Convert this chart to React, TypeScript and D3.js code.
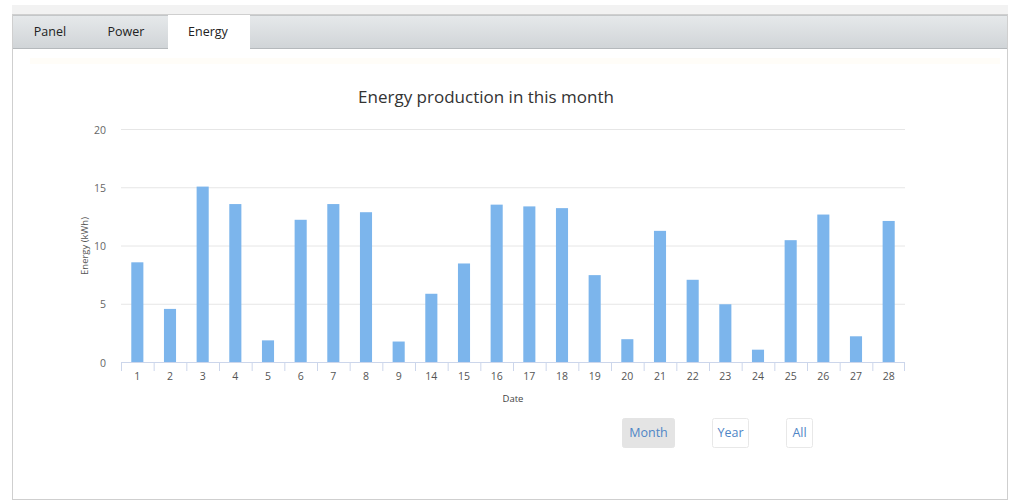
import React from "react";
import * as d3 from "d3";

const categories = ["1","2","3","4","5","6","7","8","9","14","15","16","17","18","19","20","21","22","23","24","25","26","27","28"];
const energy = [8.6,4.6,15.1,13.6,1.9,12.25,13.6,12.9,1.8,5.9,8.5,13.55,13.4,13.25,7.5,2.0,11.3,7.1,5.0,1.1,10.5,12.7,2.25,12.15];
const yTicks = [0,5,10,15,20];
const tabs = ["Panel","Power","Energy"];
const rangeButtons = ["Month","Year","All"];

const W = 1012, H = 503;
const FONT = "'Open Sans', 'DejaVu Sans', sans-serif";

export default function App() {
  const x = d3.scaleBand<string>().domain(categories).range([121, 905]).paddingInner(0.63).paddingOuter(0.315);
  const xb = d3.scaleBand<string>().domain(categories).range([121, 905]);
  const y = d3.scaleLinear().domain([0, 20]).range([362.5, 129.5]);

  const tabCenters = [50, 126, 208];
  const activeTab = { x: 168, w: 82 };
  const btn = [
    { x: 622, w: 52, active: true },
    { x: 712, w: 36, active: false },
    { x: 786, w: 26, active: false },
  ];

  return (
    <svg width={W} height={H} style={{ position: "absolute", left: 0, top: 0, display: "block" }}>
      <defs>
        <linearGradient id="tabbar" x1="0" y1="0" x2="0" y2="1">
          <stop offset="0" stopColor="#e6e9eb" />
          <stop offset="1" stopColor="#d0d4d7" />
        </linearGradient>
      </defs>
      <rect x={0} y={0} width={W} height={H} fill="#ffffff" />
      <rect x={12} y={5} width={996} height={10} fill="#f2f2f2" />
      {/* outer panel */}
      <rect x={12.5} y={14.5} width={995} height={485} fill="#ffffff" stroke="#cfcfcf" />
      {/* tab bar */}
      <rect x={13} y={15} width={994} height={34} fill="url(#tabbar)" />
      <line x1={13} x2={1007} y1={15.5} y2={15.5} stroke="#c4c7c9" />
      <line x1={13} x2={1007} y1={48.5} y2={48.5} stroke="#b5b9bc" />
      <rect x={activeTab.x} y={15} width={activeTab.w} height={35} fill="#ffffff" />
      {tabs.map((t, i) => (
        <text key={t} x={tabCenters[i]} y={36} textAnchor="middle" fontFamily={FONT} fontSize={12.5} fill="#222">
          {t}
        </text>
      ))}
      <rect x={30} y={58} width={970} height={6} fill="#fffdf8" />

      {/* title */}
      <text x={486} y={103} textAnchor="middle" fontFamily={FONT} fontSize={17} fill="#333">
        Energy production in this month
      </text>

      {/* grid */}
      {yTicks.map((t) => (
        <g key={t}>
          {t > 0 && <line x1={121} x2={905} y1={y(t)} y2={y(t)} stroke="#e6e6e6" />}
          <text x={106} y={y(t) + 4} textAnchor="end" fontFamily={FONT} fontSize={10.5} fill="#666">
            {t}
          </text>
        </g>
      ))}
      <text transform={`translate(88,246) rotate(-90)`} textAnchor="middle" fontFamily={FONT} fontSize={9.5} fill="#555">
        Energy (kWh)
      </text>

      {/* bars */}
      {categories.map((c, i) => (
        <rect key={c} x={x(c)} y={y(energy[i])} width={x.bandwidth()} height={y(0) - y(energy[i])} fill="#7cb5ec" />
      ))}

      {/* x axis */}
      <line x1={121} x2={905} y1={362.5} y2={362.5} stroke="#ccd6eb" />
      {categories.map((c) => (
        <line key={"t" + c} x1={(xb(c) as number) + 0.5} x2={(xb(c) as number) + 0.5} y1={362} y2={371} stroke="#ccd6eb" />
      ))}
      <line x1={904.5} x2={904.5} y1={362} y2={371} stroke="#ccd6eb" />
      {categories.map((c) => (
        <text key={"l" + c} x={(xb(c) as number) + xb.bandwidth() / 2} y={380} textAnchor="middle" fontFamily={FONT} fontSize={10.5} fill="#555">
          {c}
        </text>
      ))}
      <text x={513} y={402} textAnchor="middle" fontFamily={FONT} fontSize={9.5} fill="#444">
        Date
      </text>

      {/* range buttons */}
      {rangeButtons.map((b, i) => (
        <g key={b}>
          <rect x={btn[i].x + 0.5} y={418.5} width={btn[i].w} height={29} fill={btn[i].active ? "#e4e4e4" : "#ffffff"} stroke={btn[i].active ? "#e4e4e4" : "#e8e8e8"} rx={2} />
          <text x={btn[i].x + btn[i].w / 2 + 0.5} y={437} textAnchor="middle" fontFamily={FONT} fontSize={12.5} fill="#4f86c6">
            {b}
          </text>
        </g>
      ))}
    </svg>
  );
}
